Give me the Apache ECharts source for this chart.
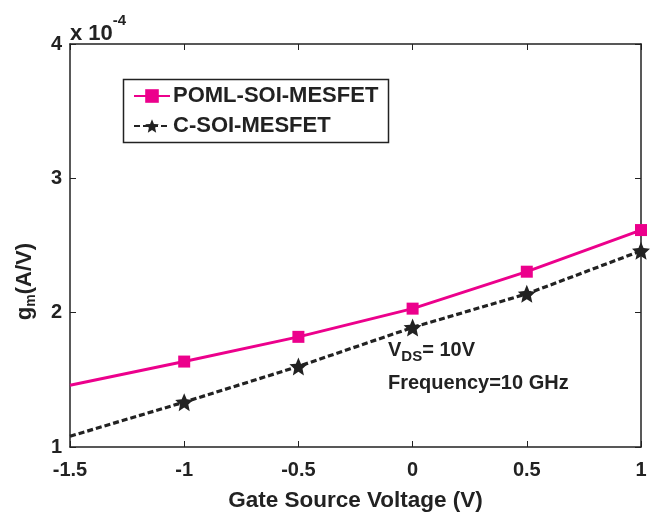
<!DOCTYPE html>
<html>
<head>
<meta charset="utf-8">
<script src="https://cdn.jsdelivr.net/npm/echarts@6/dist/echarts.min.js"></script>
<style>
html,body{margin:0;padding:0;background:#fff;}
#chart{width:661px;height:517px;}
</style>
</head>
<body>
<div id="chart"></div>
<script>
var xValues = [-1.5, -1, -0.5, 0, 0.5, 1];
var pomlValues = [1.46, 1.636, 1.82, 2.03, 2.305, 2.615];
var csoiValues = [1.08, 1.334, 1.60, 1.89, 2.14, 2.46];
var seriesNames = ['POML-SOI-MESFET', 'C-SOI-MESFET'];
var xTicks = [-1.5, -1, -0.5, 0, 0.5, 1];
var yTicks = [1, 2, 3, 4];

var FONT = '"Liberation Sans", Arial, Helvetica, sans-serif';
var STAR = 'path://M50,0 L63.5,31.5 L98,34.5 L72,57 L79.5,91 L50,73 L20.5,91 L28,57 L2,34.5 L36.5,31.5 Z';

function pairs(xs, ys){ return xs.map(function(x,i){ return [x, ys[i]]; }); }

var chart = echarts.init(document.getElementById('chart'), null, {renderer:'canvas'});
function axisCommon(){
  return {
    axisLine:{show:true, onZero:false, lineStyle:{color:'#222', width:1.5}},
    axisTick:{show:true, inside:true, length:6, lineStyle:{color:'#222', width:1}},
    splitLine:{show:false}
  };
}
chart.setOption({
  animation:false,
  backgroundColor:'#fff',
  grid:{left:70, right:20, top:44, bottom:64},
  xAxis:[
    Object.assign({type:'value', min:-1.5, max:1, interval:0.5, position:'bottom',
      name:'Gate Source Voltage (V)', nameLocation:'middle', nameGap:42,
      nameTextStyle:{fontFamily:FONT, fontWeight:'bold', fontSize:22.5, color:'#222'},
      axisLabel:{fontFamily:FONT, fontWeight:'bold', fontSize:20, color:'#222', margin:13,
        formatter:function(v){ return xTicks.indexOf(v)>=0 ? String(v) : ''; }}
    }, axisCommon()),
    Object.assign({type:'value', min:-1.5, max:1, interval:0.5, position:'top',
      axisLabel:{show:false}}, axisCommon())
  ],
  yAxis:[
    Object.assign({type:'value', min:1, max:4, interval:1, position:'left',
      axisLabel:{fontFamily:FONT, fontWeight:'bold', fontSize:20, color:'#222', margin:8,
        formatter:function(v){ return yTicks.indexOf(v)>=0 ? String(v) : ''; }}
    }, axisCommon()),
    Object.assign({type:'value', min:1, max:4, interval:1, position:'right',
      axisLabel:{show:false}}, axisCommon())
  ],
  legend:{
    left:128, top:80, orient:'vertical', itemGap:8,
    itemWidth:36, itemHeight:17,
    textStyle:{fontFamily:FONT, fontWeight:'bold', fontSize:22, color:'#222', padding:[0,0,0,-2]},
    data:seriesNames
  },
  series:[
    {name:seriesNames[0], type:'line', data:pairs(xValues, pomlValues),
     symbol:'rect', symbolSize:function(v,p){ return p.dataIndex===0 ? 0 : 12; },
     lineStyle:{color:'#EC008C', width:3}, itemStyle:{color:'#EC008C'}, clip:false, z:3},
    {name:seriesNames[1], type:'line', data:pairs(xValues, csoiValues),
     symbol:STAR, symbolSize:function(v,p){ return p.dataIndex===0 ? 0 : 18; },
     lineStyle:{color:'#222', width:3.2, type:[6,3]}, itemStyle:{color:'#222'}, clip:false, z:4}
  ],
  graphic:[
    {type:'rect', shape:{x:123.5, y:79.5, width:265, height:63}, style:{fill:null, stroke:'#222', lineWidth:1.5}, z:1},
    {type:'text', left:70, top:13, style:{
      text:'{m|x 10}{s|-4}', rich:{
        m:{fontFamily:FONT, fontWeight:'bold', fontSize:22, fill:'#222', padding:[10,0,0,0]},
        s:{fontFamily:FONT, fontWeight:'bold', fontSize:15, fill:'#222', verticalAlign:'top'}}}},
    {type:'text', left:14, top:243, rotation:Math.PI/2, style:{
      text:'{m|g}{s|m}{m|(A/V)}', rich:{
        m:{fontFamily:FONT, fontWeight:'bold', fontSize:22, fill:'#222'},
        s:{fontFamily:FONT, fontWeight:'bold', fontSize:14, fill:'#222', padding:[12,0,0,0]}}}},
    {type:'text', left:388, top:340, style:{
      text:'{m|V}{s|DS}{m|= 10V}', rich:{
        m:{fontFamily:FONT, fontWeight:'bold', fontSize:20, fill:'#222'},
        s:{fontFamily:FONT, fontWeight:'bold', fontSize:15, fill:'#222', padding:[14,0,0,0]}}}},
    {type:'text', left:388, top:373, style:{
      text:'Frequency=10 GHz', fontFamily:FONT, fontWeight:'bold', fontSize:20, fill:'#222'}}
  ]
});
</script>
</body>
</html>
